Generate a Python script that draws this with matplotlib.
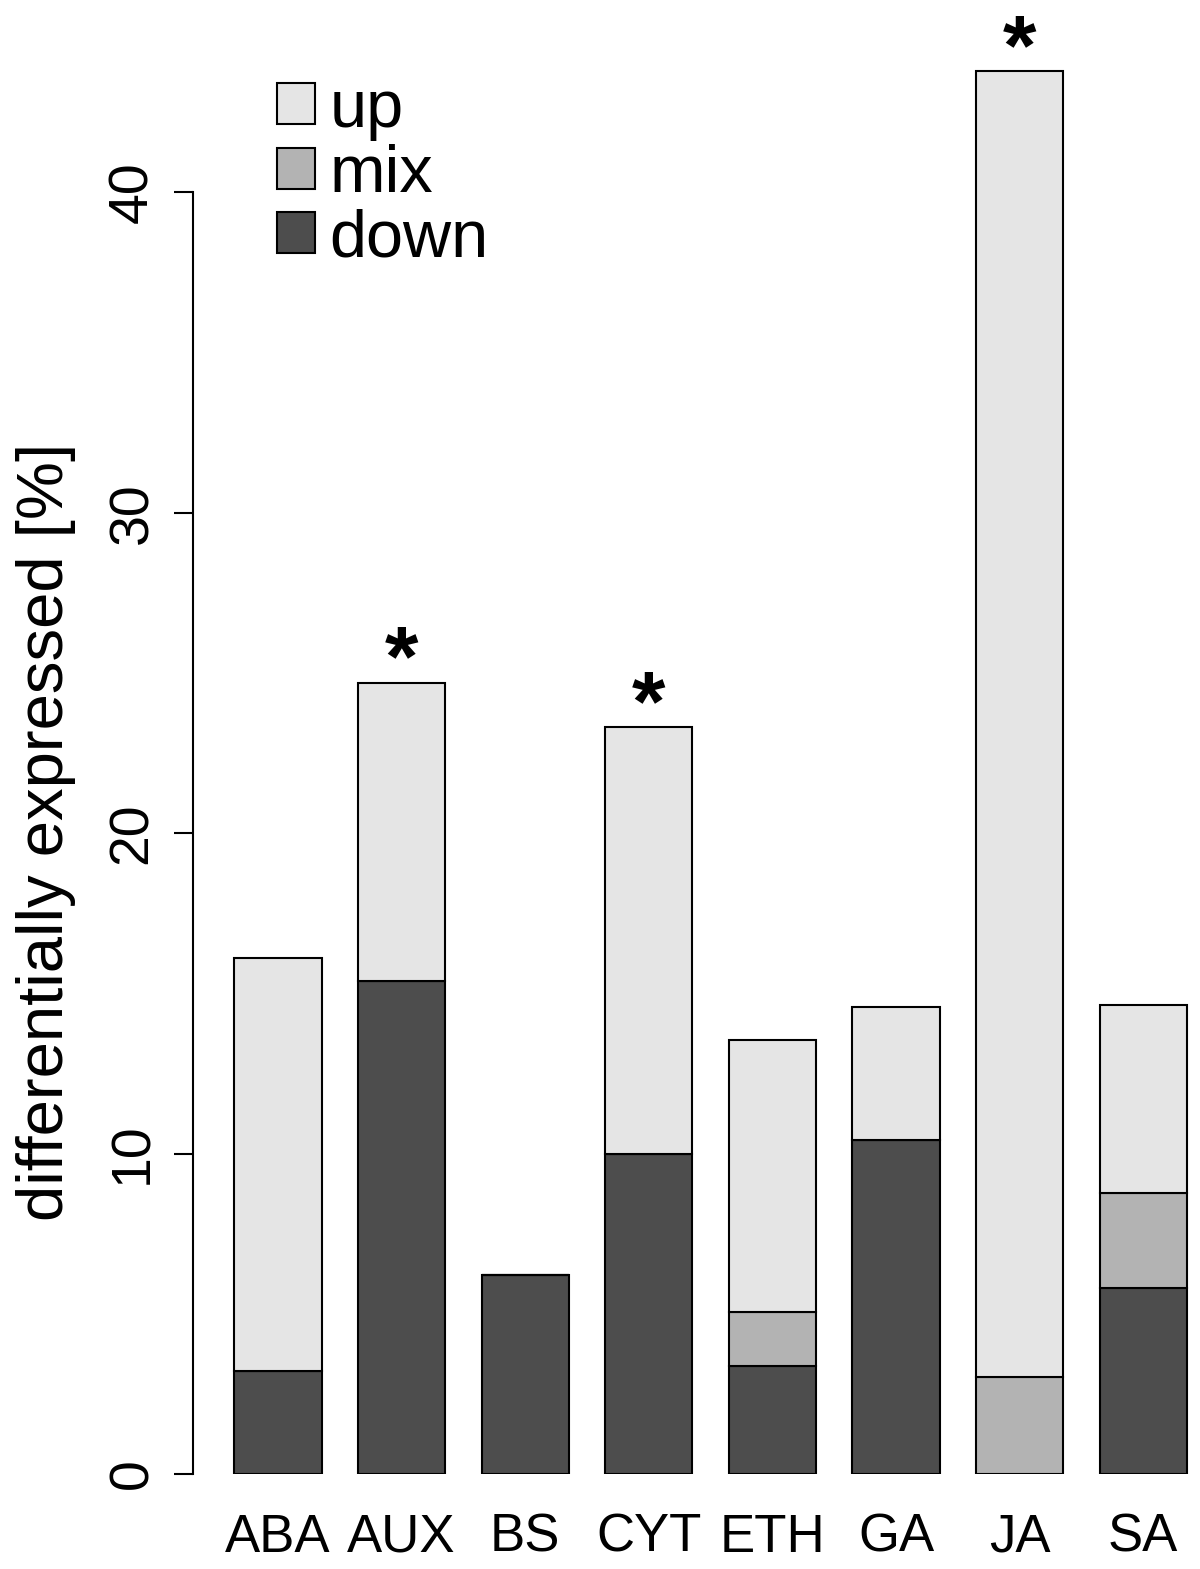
import matplotlib
matplotlib.use("Agg")
import matplotlib.pyplot as plt
from matplotlib.patches import Patch
import numpy as np

plt.rcParams['font.family'] = ['Liberation Sans', 'DejaVu Sans']

categories = ["ABA", "AUX", "BS", "CYT", "ETH", "GA", "JA", "SA"]
down = [3.2, 15.4, 6.2, 10.0, 3.37, 10.42, 0.0, 5.8]
mix = [0.0, 0.0, 0.0, 0.0, 1.68, 0.0, 3.03, 2.97]
up = [12.9, 9.3, 0.0, 13.3, 8.49, 4.15, 40.75, 5.86]
significant = [False, True, False, True, False, False, True, False]
yticks = [0, 10, 20, 30, 40]

col_up = "#E5E5E5"
col_mix = "#B3B3B3"
col_down = "#4D4D4D"

W, H = 1200, 1569
fig = plt.figure(figsize=(W / 100, H / 100), dpi=100)
ax = fig.add_axes([193 / W, (H - 1474) / H, (W - 193) / W, 1474 / H])

x = np.arange(len(categories))
down_a = np.array(down)
mix_a = np.array(mix)
up_a = np.array(up)
bw = 0.705
lw = 1.5
ax.bar(x, down_a, width=bw, color=col_down, edgecolor="black", linewidth=lw)
ax.bar(x, mix_a, width=bw, bottom=down_a, color=col_mix, edgecolor="black", linewidth=lw)
ax.bar(x, up_a, width=bw, bottom=down_a + mix_a, color=col_up, edgecolor="black", linewidth=lw)

totals = down_a + mix_a + up_a
for xi, t, s in zip(x, totals, significant):
    if s:
        ax.text(xi, t - 0.65, "*", ha="center", va="bottom", fontsize=62,
                fontweight="bold")

ax.set_xlim(-0.688, 7.46)
ax.set_ylim(0, 46)
for sp in ["top", "right", "bottom"]:
    ax.spines[sp].set_visible(False)
ax.spines["left"].set_bounds(0, 40)
ax.spines["left"].set_linewidth(1.5)
ax.set_yticks(yticks)
ax.set_yticklabels([str(v) for v in yticks], rotation=90, va="center", fontsize=40)
ax.tick_params(axis="y", length=14, width=1.5, pad=10.5)
ax.set_xticks(x)
ax.set_xticklabels(categories, fontsize=38)
ax.tick_params(axis="x", length=0, pad=28)
ax.set_ylabel("differentially expressed [%]", fontsize=47)
ax.yaxis.set_label_coords((76 - 193) / (W - 193), (1474 - 832) / 1474)

handles = [Patch(facecolor=col_up, edgecolor="black", linewidth=lw, label="up"),
           Patch(facecolor=col_mix, edgecolor="black", linewidth=lw, label="mix"),
           Patch(facecolor=col_down, edgecolor="black", linewidth=lw, label="down")]
leg = ax.legend(handles=handles, loc="upper left",
                bbox_to_anchor=((277 - 193) / (W - 193), 1 - 79 / 1474),
                frameon=False, fontsize=48, handlelength=0.57, handleheight=0.57,
                handletextpad=0.22, labelspacing=0.04, borderaxespad=0, borderpad=0)

fig.savefig("out.png", dpi=100)
